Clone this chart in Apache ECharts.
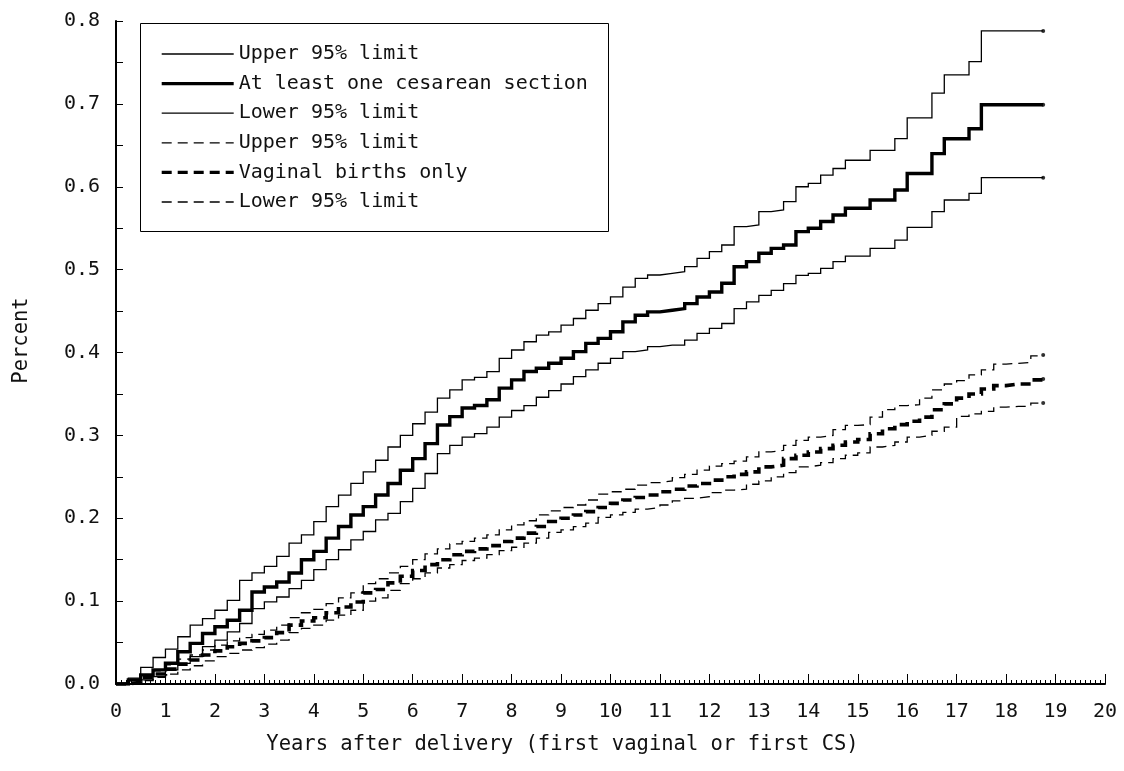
<!DOCTYPE html>
<html><head><meta charset="utf-8">
<script src="https://cdn.jsdelivr.net/npm/echarts@6/dist/echarts.min.js"></script>
<style>html,body{margin:0;padding:0;background:#fff}#c{width:1124px;height:771px}</style>
</head><body><div id="c"></div>
<script>
// Time points (years after delivery)
const years = [0,0.25,0.5,0.75,1,1.25,1.5,1.75,2,2.25,2.5,2.75,3,3.25,3.5,3.75,4,4.25,4.5,4.75,5,5.25,5.5,5.75,6,6.25,6.5,6.75,7,7.25,7.5,7.75,8,8.25,8.5,8.75,9,9.25,9.5,9.75,10,10.25,10.5,10.75,11,11.25,11.5,11.75,12,12.25,12.5,12.75,13,13.25,13.5,13.75,14,14.25,14.5,14.75,15,15.25,15.5,15.75,16,16.25,16.5,16.75,17,17.25,17.5,17.75,18,18.25,18.5,18.75];

// At least one cesarean section
const csUpper = [0,0.007,0.020,0.032,0.042,0.057,0.071,0.079,0.089,0.101,0.125,0.134,0.142,0.154,0.170,0.180,0.196,0.214,0.228,0.242,0.256,0.270,0.286,0.300,0.314,0.328,0.345,0.355,0.367,0.370,0.377,0.393,0.403,0.413,0.421,0.425,0.433,0.441,0.451,0.459,0.467,0.479,0.4895,0.4935,0.4955,0.4975,0.5035,0.5136,0.5216,0.5297,0.5518,0.5539,0.570,0.572,0.582,0.600,0.604,0.614,0.622,0.632,0.632,0.644,0.644,0.658,0.683,0.683,0.713,0.735,0.735,0.751,0.788,0.788,0.788,0.788,0.788,0.788];
const csMain = [0,0.005,0.011,0.017,0.025,0.039,0.049,0.061,0.069,0.077,0.089,0.111,0.117,0.123,0.134,0.150,0.160,0.176,0.190,0.204,0.214,0.228,0.242,0.258,0.272,0.290,0.3125,0.3226,0.333,0.336,0.343,0.357,0.367,0.377,0.381,0.387,0.393,0.401,0.411,0.417,0.425,0.437,0.445,0.449,0.451,0.453,0.459,0.467,0.473,0.4835,0.5035,0.5096,0.5197,0.5257,0.5297,0.5458,0.550,0.558,0.566,0.574,0.574,0.584,0.584,0.596,0.616,0.616,0.640,0.658,0.658,0.670,0.699,0.699,0.699,0.699,0.699,0.699];
const csLower = [0,0,0.005,0.009,0.017,0.025,0.033,0.045,0.053,0.063,0.073,0.091,0.099,0.105,0.115,0.125,0.138,0.150,0.162,0.174,0.184,0.198,0.206,0.220,0.236,0.254,0.278,0.288,0.298,0.302,0.310,0.322,0.330,0.336,0.346,0.354,0.362,0.371,0.379,0.387,0.393,0.401,0.403,0.407,0.409,0.409,0.415,0.423,0.429,0.435,0.453,0.461,0.469,0.475,0.483,0.493,0.4955,0.5016,0.5096,0.5164,0.5164,0.5257,0.5257,0.5357,0.551,0.551,0.570,0.584,0.584,0.592,0.611,0.611,0.611,0.611,0.611,0.611];

// Vaginal births only
const vagUpper = [0,0.004,0.011,0.016,0.023,0.030,0.035,0.041,0.047,0.052,0.056,0.060,0.065,0.071,0.080,0.086,0.090,0.097,0.104,0.110,0.121,0.127,0.134,0.142,0.150,0.157,0.163,0.169,0.172,0.176,0.180,0.186,0.192,0.197,0.204,0.209,0.213,0.216,0.222,0.229,0.232,0.235,0.240,0.243,0.245,0.249,0.253,0.258,0.263,0.266,0.269,0.274,0.280,0.282,0.288,0.294,0.298,0.300,0.307,0.312,0.313,0.322,0.331,0.336,0.337,0.345,0.355,0.362,0.366,0.373,0.379,0.386,0.387,0.388,0.396,0.397];
const vagMain = [0,0.002,0.008,0.012,0.018,0.024,0.029,0.035,0.040,0.045,0.049,0.052,0.056,0.062,0.071,0.076,0.080,0.086,0.093,0.099,0.110,0.114,0.122,0.130,0.137,0.144,0.150,0.156,0.160,0.163,0.167,0.172,0.176,0.182,0.190,0.196,0.200,0.204,0.208,0.213,0.218,0.222,0.225,0.228,0.232,0.235,0.239,0.242,0.246,0.250,0.253,0.256,0.262,0.264,0.272,0.276,0.280,0.284,0.288,0.292,0.295,0.302,0.308,0.313,0.317,0.322,0.331,0.338,0.345,0.350,0.356,0.360,0.362,0.362,0.367,0.368];
const vagLower = [0,0,0.004,0.008,0.012,0.017,0.022,0.028,0.033,0.037,0.041,0.044,0.048,0.053,0.062,0.067,0.071,0.077,0.083,0.089,0.100,0.104,0.113,0.121,0.127,0.134,0.140,0.144,0.149,0.152,0.156,0.161,0.165,0.170,0.176,0.183,0.186,0.190,0.194,0.201,0.204,0.207,0.211,0.213,0.216,0.221,0.224,0.226,0.231,0.234,0.235,0.241,0.245,0.250,0.255,0.262,0.264,0.267,0.272,0.276,0.279,0.286,0.288,0.292,0.298,0.300,0.305,0.310,0.323,0.326,0.329,0.334,0.335,0.335,0.339,0.339];

const seriesNames = ['Upper 95% limit','At least one cesarean section','Lower 95% limit','Upper 95% limit ','Vaginal births only','Lower 95% limit '];
const xTitle = 'Years after delivery (first vaginal or first CS)';
const yTitle = 'Percent';

const FONT = '"DejaVu Sans Mono", monospace';
const TXT = '#111';
const defs = [
  {data: csUpper, width: 1.3, dash: 'solid'},
  {data: csMain, width: 3.4, dash: 'solid'},
  {data: csLower, width: 1.3, dash: 'solid'},
  {data: vagUpper, width: 1.3, dash: [10, 6]},
  {data: vagMain, width: 3.6, dash: [10, 6]},
  {data: vagLower, width: 1.3, dash: [10, 6]}
];
const pts = arr => years.map((t, i) => [t, arr[i]]);

const series = defs.map((d, i) => ({
  name: seriesNames[i],
  type: 'line',
  step: 'end',
  data: pts(d.data),
  symbol: 'none',
  animation: false,
  itemStyle: {color: '#000'},
  lineStyle: {color: '#000', width: d.width, type: d.dash, cap: 'butt', join: 'miter'}
}));
// end-point dots
series.push({
  type: 'scatter',
  symbol: 'circle',
  symbolSize: 4,
  animation: false,
  itemStyle: {color: '#000'},
  data: defs.map(d => [years[years.length - 1], d.data[d.data.length - 1]])
});

const legendData = seriesNames.map((n, i) => ({
  name: n,
  itemStyle: {opacity: 0},
  lineStyle: {width: defs[i].width > 2 ? 3.4 : 1.3, type: defs[i].dash, color: '#000'}
}));

const chart = echarts.init(document.getElementById('c'), null, {renderer: 'canvas'});
chart.setOption({
  backgroundColor: '#fff',
  animation: false,
  grid: {left: 116, right: 19, top: 21, bottom: 87},
  graphic: [{
    type: 'rect', left: 140, top: 23, z: 1,
    shape: {width: 468, height: 208},
    style: {fill: '#fff', stroke: '#000', lineWidth: 1}
  }],
  legend: {
    orient: 'vertical', left: 155, top: 39, z: 5,
    itemWidth: 72, itemHeight: 14, itemGap: 9.6,
    selectedMode: false,
    data: legendData,
    textStyle: {fontFamily: FONT, fontSize: 20, color: TXT}
  },
  xAxis: {
    type: 'value', min: 0, max: 20, interval: 1,
    name: xTitle, nameLocation: 'middle', nameGap: 50,
    nameTextStyle: {fontFamily: FONT, fontSize: 20.5, color: TXT, padding: [0, 96, 0, 0]},
    axisLine: {show: true, onZero: false, lineStyle: {color: '#000', width: 2}},
    axisTick: {show: true, inside: true, length: 10, lineStyle: {color: '#000', width: 1}},
    minorTick: {show: true, splitNumber: 10, length: 4, lineStyle: {color: '#000', width: 1}},
    splitLine: {show: false},
    axisLabel: {fontFamily: FONT, fontSize: 20, color: TXT, margin: 18}
  },
  yAxis: {
    type: 'value', min: 0, max: 0.8, interval: 0.1,
    name: yTitle, nameLocation: 'middle', nameGap: 84, nameRotate: 90,
    nameTextStyle: {fontFamily: FONT, fontSize: 20.5, color: TXT, padding: [0, 0, 0, 24]},
    axisLine: {show: true, lineStyle: {color: '#000', width: 2}},
    axisTick: {show: true, inside: true, length: 7, lineStyle: {color: '#000', width: 1}},
    minorTick: {show: true, splitNumber: 2, length: 7, lineStyle: {color: '#000', width: 1}},
    splitLine: {show: false},
    axisLabel: {fontFamily: FONT, fontSize: 20, color: TXT, margin: 16,
      formatter: v => v.toFixed(1)}
  },
  series: series
});
</script></body></html>
